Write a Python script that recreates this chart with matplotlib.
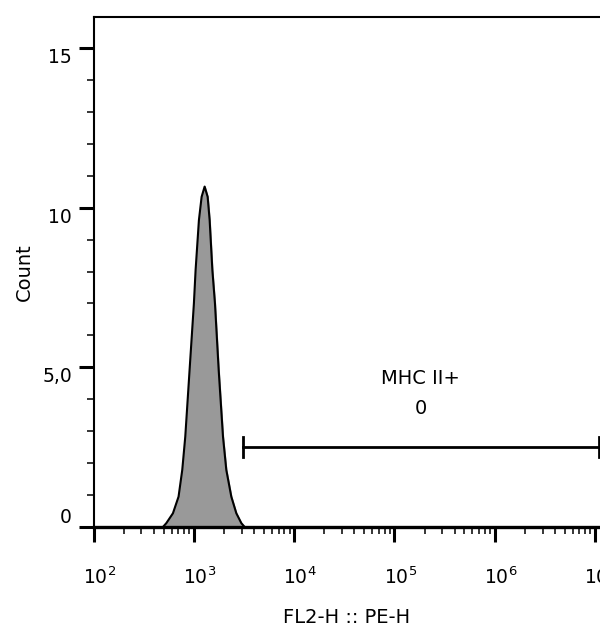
import numpy as np
import matplotlib
matplotlib.use('Agg')
import matplotlib.pyplot as plt
from matplotlib.transforms import ScaledTranslation

# histogram (log10 of PE-H, count)
log_pe = [2.692, 2.726, 2.792, 2.848, 2.885, 2.915, 2.958, 3.001, 3.018, 3.051,
          3.078, 3.108, 3.138, 3.158, 3.185, 3.211, 3.248, 3.291, 3.324, 3.374,
          3.424, 3.474, 3.507]
count = [0.0, 0.12, 0.43, 0.95, 1.79, 2.83, 4.92, 7.0, 8.05, 9.61,
         10.34, 10.66, 10.34, 9.61, 8.05, 7.0, 4.92, 2.83, 1.79, 0.95,
         0.43, 0.12, 0.0]

gate_name = "MHC II+"
gate_value = "0"
gate_lo = 10**3.487
gate_hi = 10**7.04
gate_y = 2.5

y_ticks = [0, 5, 10, 15]
y_labels = ["0", "5,0", "10", "15"]
x_decades = [2, 3, 4, 5, 6, 7]

plt.rcParams['font.family'] = ['DejaVu Sans']

fig = plt.figure(figsize=(6.0, 6.3), dpi=100)
ax = fig.add_axes([93.5/600, 103/630, 1 - 93.5/600, 510/630])

x = 10**np.array(log_pe)
ax.fill_between(x, 0, count, color='#999999', zorder=2)
ax.plot(x, count, color='black', lw=1.5, zorder=3)

# gate
ax.plot([gate_lo, gate_hi], [gate_y, gate_y], color='black', lw=2.0, zorder=4)
for gx in [gate_lo, gate_hi]:
    ax.plot([gx, gx], [gate_y - 0.32, gate_y + 0.32], color='black', lw=2.0, zorder=4)
gmid = np.sqrt(gate_lo * gate_hi)
ax.text(gmid, gate_y + 2.15, gate_name, ha='center', va='center', fontsize=14)
ax.text(gmid, gate_y + 1.2, gate_value, ha='center', va='center', fontsize=14)

ax.set_xscale('log')
ax.set_xlim(10**2, 10**7.05)
ax.set_ylim(0, 15.97)

ax.set_xticks([10.0**d for d in x_decades])
ax.set_xticklabels([r'$10^{%d}$' % d for d in x_decades])
minor = [m * 10.0**d for d in x_decades[:-1] for m in range(2, 10)]
ax.set_xticks(minor, minor=True)

ax.set_yticks(y_ticks)
ax.set_yticklabels(y_labels)
ax.set_yticks([v for v in range(1, 15) if v not in y_ticks], minor=True)

ax.spines['right'].set_visible(False)
ax.spines['left'].set_linewidth(1.5)
ax.spines['top'].set_linewidth(1.5)
ax.spines['bottom'].set_linewidth(2.4)

ax.tick_params(axis='both', which='major', direction='out', length=10.5, width=2.2,
               labelsize=13.5, colors='black')
ax.tick_params(axis='both', which='minor', direction='out', length=5, width=1.1)
ax.tick_params(axis='x', which='major', pad=18)
ax.tick_params(axis='y', which='major', pad=5)

# FlowJo puts y labels under their tick, except zero
for lab, v in zip(ax.get_yticklabels(), y_ticks):
    lab.set_va('bottom' if v == 0 else 'top')
for lab in ax.get_xticklabels():
    lab.set_transform(lab.get_transform() + ScaledTranslation(0.06, 0, fig.dpi_scale_trans))

ax.set_ylabel("Count", fontsize=14)
ax.yaxis.set_label_coords(-0.118, 0.5)
ax.set_xlabel("FL2-H :: PE-H", fontsize=14)
ax.xaxis.set_label_coords(0.5, -0.158)

plt.savefig('out.png', dpi=100)
